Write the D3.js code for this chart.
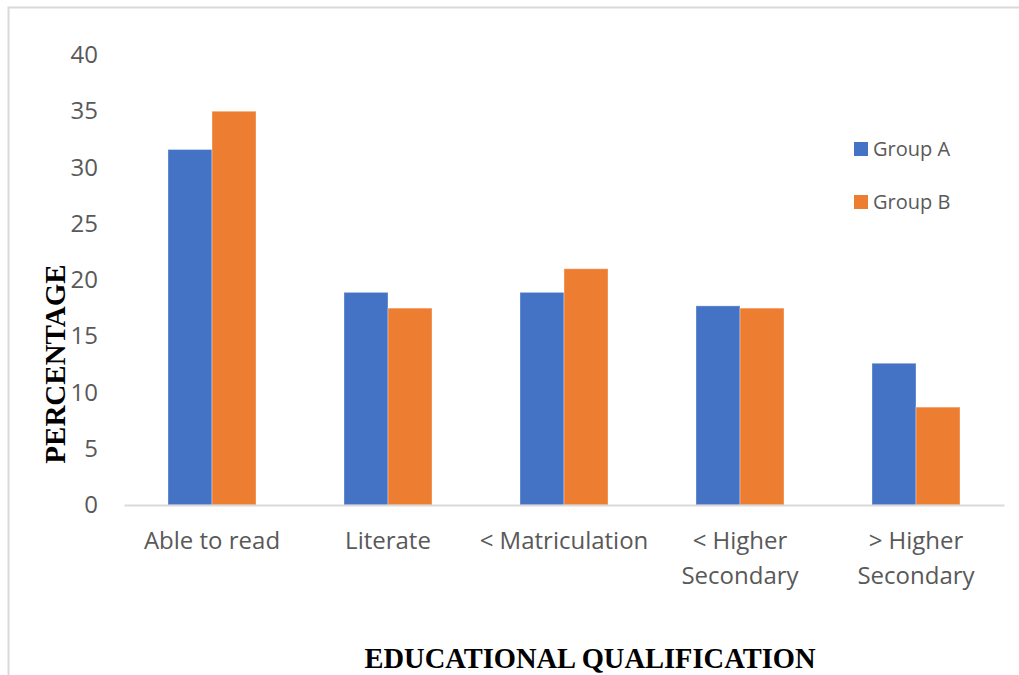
<!DOCTYPE html>
<html>
<head>
<meta charset="utf-8">
<script src="https://cdn.jsdelivr.net/npm/d3@7"></script>
<style>
  body { margin: 0; background: #fff; }
  svg { display: block; }
</style>
</head>
<body>
<div id="chart"></div>
<script>
const categories = ['Able to read', 'Literate', '< Matriculation', '< Higher Secondary', '> Higher Secondary']
const categoryLines = [['Able to read'], ['Literate'], ['< Matriculation'], ['< Higher', 'Secondary'], ['> Higher', 'Secondary']]
const groups = ['Group A', 'Group B']
const groupA = [31.6, 18.9, 18.9, 17.7, 12.6]
const groupB = [35.0, 17.5, 21.0, 17.5, 8.7]
const yTicks = [0, 5, 10, 15, 20, 25, 30, 35, 40]
const colors = ['#4472C4', '#ED7D31']

const width = 1019
const height = 675
const margin = {top: 55, right: 15, bottom: 170, left: 124}

const svg = d3.select('#chart').append('svg')
  .attr('width', width)
  .attr('height', height)

// outer frame (only top and left edges show)
svg.append('path')
  .attr('d', 'M8.5,' + height + 'V7.5H' + width)
  .attr('fill', 'none')
  .attr('stroke', '#d9d9d9')
  .attr('stroke-width', 2)

const x = d3.scaleBand()
  .domain(categories)
  .range([margin.left, width - margin.right])
  .paddingInner(0.5)
  .paddingOuter(0.25)

const xs = d3.scaleBand()
  .domain(groups)
  .range([0, x.bandwidth()])

const y = d3.scaleLinear()
  .domain([0, 40])
  .range([height - margin.bottom, margin.top])

const series = [groupA, groupB]

// bars
groups.forEach((g, gi) => {
  svg.append('g')
    .selectAll('rect')
    .data(categories)
    .enter().append('rect')
    .attr('x', (c) => x(c) + xs(g))
    .attr('y', (c, i) => y(series[gi][i]))
    .attr('width', xs.bandwidth())
    .attr('height', (c, i) => y(0) - y(series[gi][i]))
    .attr('fill', colors[gi])
    .attr('stroke', 'rgba(255,255,255,0.35)')
    .attr('stroke-width', 1)
})

// y axis
const yAxis = d3.axisLeft(y)
  .tickValues(yTicks)
  .tickSize(0)
  .tickPadding(0)

svg.append('g')
  .attr('transform', 'translate(98,0)')
  .call(yAxis)
  .call(g => g.select('.domain').remove())
  .selectAll('text')
  .attr('fill', '#595959')
  .attr('font-family', '"Open Sans", sans-serif')
  .attr('font-size', '24px')

// x axis
const xAxis = d3.axisBottom(x).tickSize(0).tickFormat('')

const xg = svg.append('g')
  .attr('transform', 'translate(0,' + y(0) + ')')
  .call(xAxis)
xg.select('.domain')
  .attr('stroke', '#d9d9d9')
  .attr('stroke-width', 2)

xg.selectAll('.tick text').remove()
xg.selectAll('.tick').each(function (c, i) {
  const t = d3.select(this).append('text')
    .attr('fill', '#595959')
    .attr('font-family', '"Open Sans", sans-serif')
    .attr('font-size', '24px')
    .attr('text-anchor', 'middle')
  categoryLines[i].forEach((line, li) => {
    t.append('tspan')
      .attr('x', 0)
      .attr('y', 44 + li * 35)
      .text(line)
  })
})

// legend
const legend = svg.append('g')
  .attr('transform', 'translate(854,142)')

groups.forEach((g, gi) => {
  const row = legend.append('g')
    .attr('transform', 'translate(0,' + gi * 53 + ')')
  row.append('rect')
    .attr('width', 14)
    .attr('height', 14)
    .attr('fill', colors[gi])
  row.append('text')
    .attr('x', 19)
    .attr('y', 14)
    .attr('fill', '#595959')
    .attr('font-family', '"Open Sans", sans-serif')
    .attr('font-size', '20px')
    .text(g)
})

// axis titles
svg.append('text')
  .attr('transform', 'translate(65,364) rotate(-90)')
  .attr('text-anchor', 'middle')
  .attr('font-family', '"Liberation Serif", "Times New Roman", serif')
  .attr('font-weight', 'bold')
  .attr('font-size', '29px')
  .attr('fill', '#000')
  .text('PERCENTAGE')

svg.append('text')
  .attr('x', 590)
  .attr('y', 668)
  .attr('text-anchor', 'middle')
  .attr('font-family', '"Liberation Serif", "Times New Roman", serif')
  .attr('font-weight', 'bold')
  .attr('font-size', '28.5px')
  .attr('fill', '#000')
  .text('EDUCATIONAL QUALIFICATION')
</script>
</body>
</html>
